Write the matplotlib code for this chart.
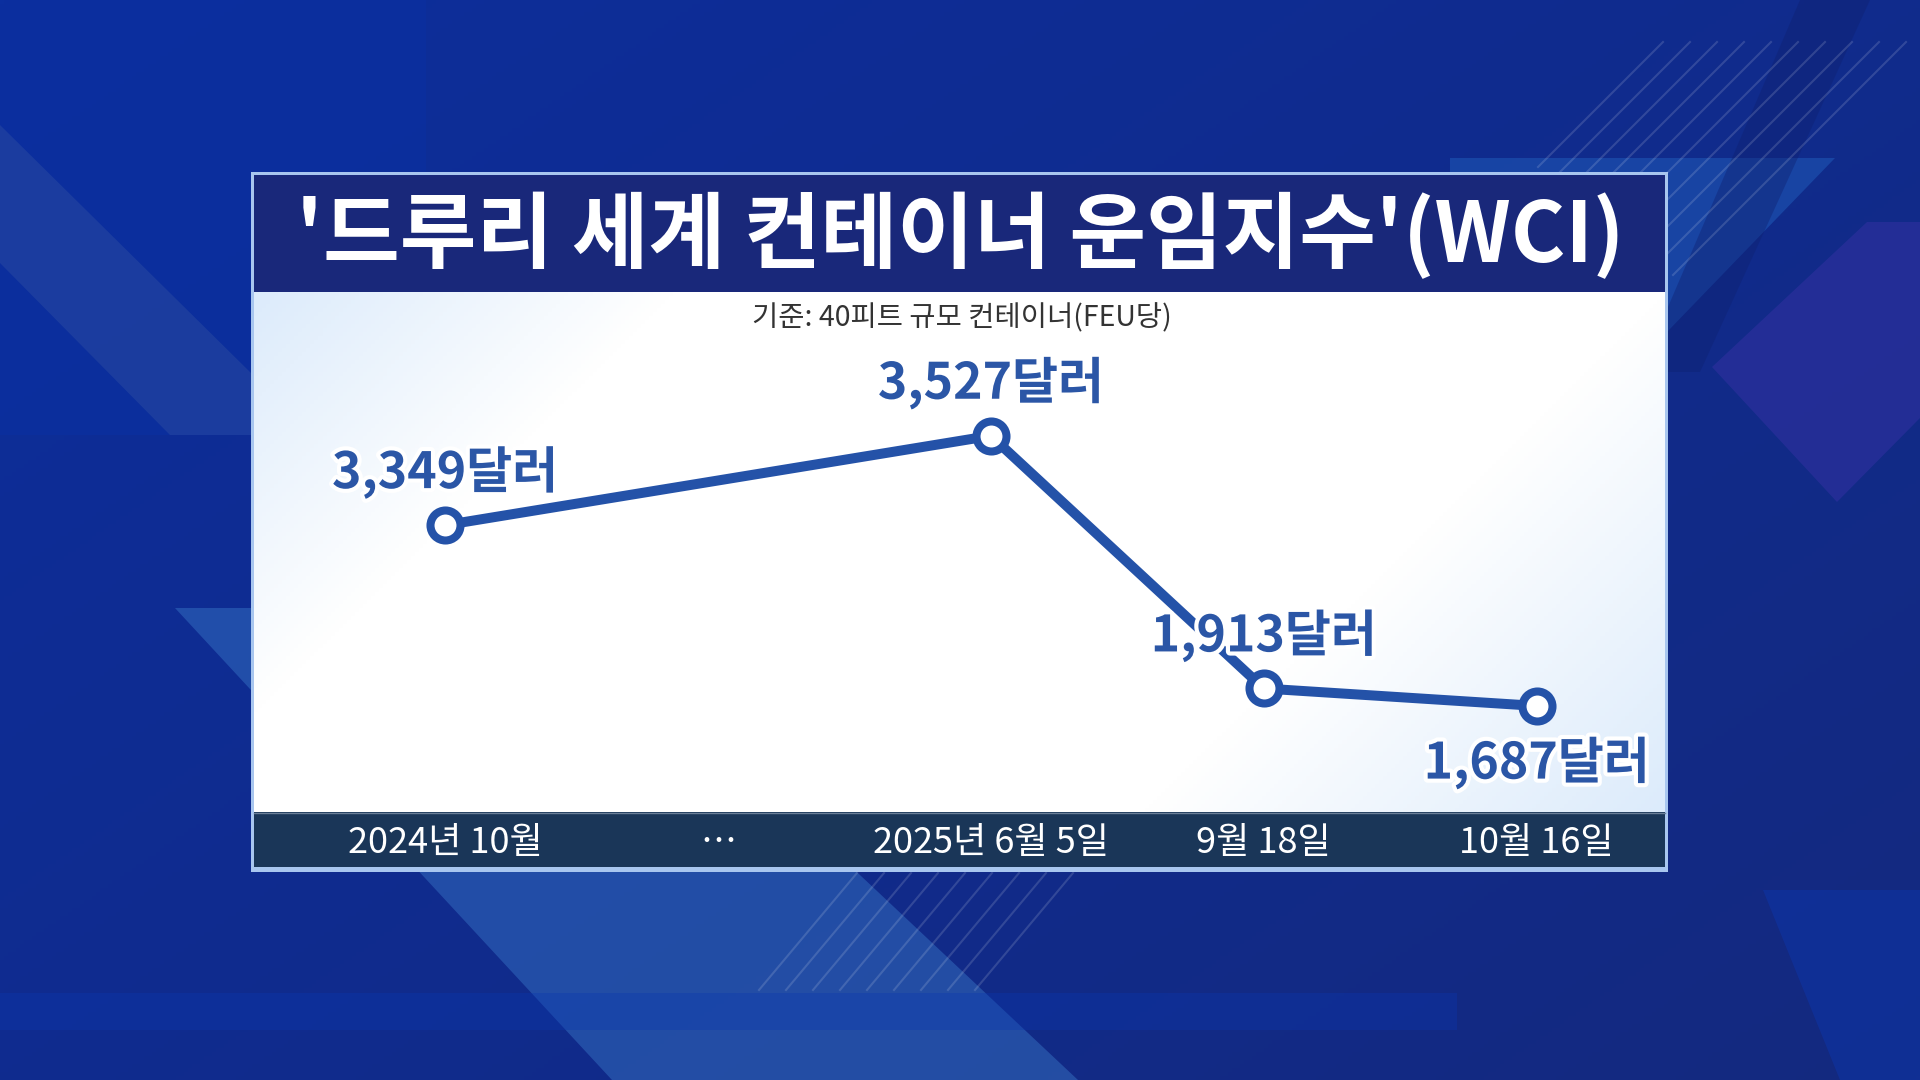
import numpy as np
import matplotlib
matplotlib.use("Agg")
import matplotlib.pyplot as plt
from matplotlib import patheffects
from matplotlib.patches import Rectangle, Polygon
from matplotlib.colors import to_rgb

plt.rcParams['font.family'] = ['Noto Sans CJK KR', 'DejaVu Sans']

# --- data ---
title = "'드루리 세계 컨테이너 운임지수'(WCI)"
subtitle = "기준: 40피트 규모 컨테이너(FEU당)"
tick_labels = ['2024년 10월', '⋯', '2025년 6월 5일', '9월 18일', '10월 16일']
point_dates = ['2024년 10월', '2025년 6월 5일', '9월 18일', '10월 16일']
wci_values = [3349, 3527, 1913, 1687]

W, H = 1920, 1080
LINE_BLUE = '#2452a8'
TEXT_BLUE = '#2b56a6'

fig = plt.figure(figsize=(19.2, 10.8), dpi=100)

# background in pixel coords
bg = fig.add_axes([0, 0, 1, 1])
bg.set_xlim(0, W)
bg.set_ylim(H, 0)
bg.axis('off')

yy, xx = np.mgrid[0:1:270j, 0:1:480j]
c1 = np.array(to_rgb('#0c2e9c'))
c2 = np.array(to_rgb('#14297f'))
t = np.clip(0.55 * xx + 0.45 * yy, 0, 1)[..., None]
bg.imshow(c1 * (1 - t) + c2 * t, extent=(0, W, H, 0), aspect='auto', zorder=0)

bg.add_patch(Rectangle((0, 0), 426, 435, color='#0b30a2', alpha=0.55, lw=0, zorder=1))
bg.add_patch(Polygon([(0, 125), (251, 373), (251, 435), (170, 435), (0, 263)],
                     color='#2f4fa2', alpha=0.45, lw=0, zorder=1))
bg.add_patch(Polygon([(175, 608), (576, 608), (1078, 1080), (612, 1080)],
                     color='#3a78c8', alpha=0.45, lw=0, zorder=1))
bg.add_patch(Rectangle((0, 993), 1457, 37, color='#0a37b0', alpha=0.35, lw=0, zorder=1))
bg.add_patch(Polygon([(1763, 890), (1920, 890), (1920, 1080), (1840, 1080)],
                     color='#0d35aa', alpha=0.5, lw=0, zorder=1))
# top right shapes
bg.add_patch(Polygon([(1450, 158), (1835, 158), (1640, 360), (1450, 360)],
                     color='#1f5ab8', alpha=0.55, lw=0, zorder=1))
bg.add_patch(Polygon([(1800, 0), (1870, 0), (1700, 372), (1640, 372)],
                     color='#0e2070', alpha=0.4, lw=0, zorder=1))
bg.add_patch(Polygon([(1712, 367), (1867, 222), (1920, 222), (1920, 418), (1837, 502)],
                     color='#2b2f9c', alpha=0.7, lw=0, zorder=1))
for i in range(10):
    x0 = 1663 + 27 * i
    L = 125 + 12 * i
    bg.plot([x0, x0 - L], [42, 42 + L], color='white', alpha=0.14, lw=1.5, zorder=1)
for i in range(9):
    x0 = 857 + 27 * i
    bg.plot([x0, x0 - 98], [873, 990], color='white', alpha=0.14, lw=1.5, zorder=1)

# panel
bg.add_patch(Rectangle((251, 172), 1417, 700, facecolor='#a8c6ef', lw=0, zorder=2))
bg.add_patch(Rectangle((254, 175), 1411, 117, facecolor='#19287a', lw=0, zorder=3))
gy, gx = np.mgrid[0:520:130j, 0:1411:350j]
tint = np.maximum(np.clip(1 - (gx + gy) / 420, 0, 1),
                  np.clip(1 - ((1411 - gx) + (520 - gy)) / 520, 0, 1))[..., None]
light = np.array(to_rgb('#dcebfb'))
bg.imshow(np.ones(3) * (1 - tint) + light * tint, extent=(254, 1665, 812, 292),
          aspect='auto', zorder=3)
bg.add_patch(Rectangle((254, 812), 1411, 55, facecolor='#1a3658', lw=0, zorder=3))
bg.plot([254, 1665], [812.5, 812.5], color='#6b7f98', lw=1, zorder=4)

bg.text(960, 236, title, color='white', fontsize=60, fontweight='bold',
        ha='center', va='center', zorder=5)
bg.text(962, 318, subtitle, color='#333333', fontsize=20.5,
        ha='center', va='center', zorder=5)
bg.set_xlim(0, W)
bg.set_ylim(H, 0)

# --- chart ---
ax = fig.add_axes([254 / W, 1 - 812 / H, 1411 / W, 520 / H])
ax.set_facecolor('none')
for s in ax.spines.values():
    s.set_visible(False)

# stretched value scale (the graphic exaggerates the small moves)
v_ref = max(wci_values)


def y_fwd(v):
    v = np.asarray(v, dtype=float)
    return np.exp(0.005 * (v - v_ref)) + 0.6 * (v - v_ref) / 1000


_grid = np.linspace(-20000, 8000, 40001)


def y_inv(g):
    return np.interp(g, y_fwd(_grid), _grid)


ax.set_yscale('function', functions=(y_fwd, y_inv))

xs = [tick_labels.index(d) for d in point_dates]
ax.plot(xs, wci_values, color=LINE_BLUE, lw=7.2, solid_capstyle='round',
        solid_joinstyle='round', zorder=3, clip_on=False)
ax.plot(xs, wci_values, 'o', ms=21.6, mfc='white', mec=LINE_BLUE, mew=5.8,
        zorder=4, clip_on=False)

stroke = [patheffects.withStroke(linewidth=6, foreground='white')]
for i, (x, v) in enumerate(zip(xs, wci_values)):
    dy = -41 if i == len(xs) - 1 else 38
    ax.annotate(f'{v:,}달러', (x, v), xytext=(0, dy), textcoords='offset points',
                ha='center', va='center', fontsize=36, fontweight='heavy',
                color=TEXT_BLUE, path_effects=stroke, zorder=5)

ax.set_xlim(-0.7, 4.47)
ax.set_ylim(y_inv(-1.93), y_inv(2.12))
ax.set_xticks(range(len(tick_labels)), tick_labels)
ax.set_yticks([])
ax.minorticks_off()
ax.tick_params(axis='x', length=0, pad=9, labelsize=26, labelcolor='white')
for lab in ax.get_xticklabels():
    lab.set_fontweight('medium')

fig.savefig('out.png', dpi=100)
